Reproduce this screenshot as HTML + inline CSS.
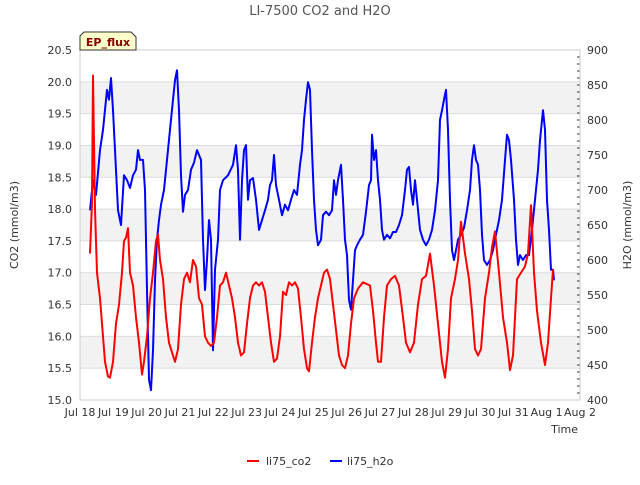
<!DOCTYPE html>
<html><head><meta charset="utf-8"><style>
body{margin:0;background:#fff;font-family:"Liberation Sans","DejaVu Sans",sans-serif}
svg text{font-family:"DejaVu Sans","Liberation Sans",sans-serif}
</style></head><body>
<svg id="chart" width="640" height="480" xmlns="http://www.w3.org/2000/svg"></svg>
<script>
const xTickLabels=["Jul 18","Jul 19","Jul 20","Jul 21","Jul 22","Jul 23","Jul 24","Jul 25","Jul 26","Jul 27","Jul 28","Jul 29","Jul 30","Jul 31","Aug 1","Aug 2"];
const co2Ticks=[15.0,15.5,16.0,16.5,17.0,17.5,18.0,18.5,19.0,19.5,20.0,20.5];
const h2oTicks=[400,450,500,550,600,650,700,750,800,850,900];
const co2Days=[0.30,0.36,0.39,0.45,0.51,0.60,0.69,0.75,0.84,0.90,0.99,1.08,1.17,1.26,1.32,1.38,1.44,1.50,1.59,1.68,1.77,1.86,1.92,2.01,2.10,2.19,2.28,2.34,2.40,2.49,2.58,2.67,2.76,2.85,2.94,3.03,3.12,3.21,3.30,3.39,3.48,3.57,3.66,3.75,3.84,3.93,4.02,4.11,4.20,4.29,4.38,4.47,4.56,4.65,4.74,4.83,4.92,5.01,5.10,5.19,5.28,5.37,5.46,5.55,5.64,5.73,5.82,5.91,6.00,6.09,6.18,6.27,6.36,6.45,6.54,6.63,6.72,6.81,6.87,6.96,7.05,7.14,7.23,7.32,7.41,7.50,7.59,7.68,7.77,7.86,7.95,8.04,8.13,8.22,8.34,8.49,8.70,8.79,8.88,8.94,9.03,9.12,9.21,9.33,9.45,9.57,9.69,9.78,9.90,10.02,10.14,10.26,10.38,10.50,10.62,10.74,10.86,10.95,11.04,11.13,11.25,11.34,11.43,11.55,11.67,11.76,11.85,11.94,12.03,12.15,12.27,12.36,12.45,12.57,12.69,12.81,12.90,12.99,13.11,13.23,13.35,13.44,13.53,13.62,13.71,13.83,13.95,14.04,14.13,14.19];
const co2Values=[17.3,18.1,20.1,18.0,17.0,16.6,16.0,15.6,15.37,15.35,15.6,16.2,16.5,17.0,17.5,17.55,17.7,17.0,16.8,16.3,15.9,15.4,15.6,16.0,16.6,17.0,17.5,17.6,17.2,16.9,16.3,15.9,15.75,15.6,15.8,16.5,16.9,17.0,16.85,17.2,17.1,16.6,16.5,16.0,15.9,15.85,15.9,16.3,16.8,16.85,17.0,16.8,16.6,16.3,15.9,15.7,15.75,16.2,16.6,16.8,16.85,16.8,16.85,16.7,16.3,15.9,15.6,15.65,16.0,16.7,16.65,16.85,16.8,16.85,16.75,16.3,15.8,15.5,15.45,15.9,16.3,16.6,16.8,17.0,17.05,16.9,16.5,16.1,15.7,15.55,15.5,15.7,16.2,16.6,16.75,16.85,16.8,16.4,15.9,15.6,15.6,16.3,16.8,16.9,16.95,16.8,16.3,15.9,15.75,15.9,16.5,16.9,16.95,17.3,16.8,16.2,15.6,15.35,15.8,16.6,16.9,17.2,17.8,17.3,16.9,16.4,15.8,15.7,15.8,16.6,17.0,17.4,17.65,17.0,16.3,15.9,15.47,15.7,16.9,17.0,17.1,17.3,18.06,17.0,16.4,15.9,15.55,15.9,16.6,17.05];
const h2oX=[90,93,96,100,103,107,109,111,113,115,118,121,124,127,130,133,136,138,140,143,145,147,149,151,153,155,157,159,161,164,167,170,173,175,177,179,181,183,185,188,191,194,197,199,201,203,205,207,209,211,213,215,218,220,223,228,233,236,238,240,242,244,246,248,250,253,256,259,262,265,268,270,272,274,276,279,282,285,288,291,294,297,300,302,304,306,308,310,312,314,316,318,321,323,326,329,332,334,336,338,341,343,345,347,349,351,353,355,357,360,363,366,369,371,372,374,376,378,380,382,384,387,390,393,396,399,402,405,407,409,411,413,415,417,420,423,426,429,432,435,438,440,442,444,446,448,450,452,454,456,458,461,464,467,470,472,474,476,478,480,482,484,487,490,493,496,499,502,505,507,509,511,514,516,518,520,523,526,529,532,535,538,540,543,545,547,549,551,553,554];
const h2oDays=h2oX.map(x=>(x-80)/(500/15));
const h2oValues=[671,714,693,757,786,843,829,860,814,757,671,650,721,714,703,721,729,757,743,743,700,557,429,414,471,571,629,657,679,700,743,786,829,857,871,814,721,669,693,700,729,739,757,750,743,629,557,600,657,629,471,586,629,700,714,721,736,764,729,629,714,757,764,686,714,717,686,643,657,671,686,707,714,750,707,686,664,679,671,686,700,693,736,757,800,829,854,843,757,686,643,621,629,664,669,664,671,714,693,714,736,686,629,607,543,529,571,614,621,629,636,669,707,714,779,743,757,714,686,643,629,636,631,640,640,650,664,700,729,733,700,679,714,686,643,629,621,629,643,671,714,800,814,829,843,786,686,614,600,614,629,636,646,671,700,743,764,743,736,700,636,600,593,600,614,636,657,686,743,779,771,743,686,629,593,607,600,607,607,643,686,729,771,814,786,686,643,586,586,571];

const svg=document.getElementById('chart');
const NS='http://www.w3.org/2000/svg';
const L=80,R=580,T=50,B=400;
const xs=d=>L+d*(R-L)/15;
const yc=v=>B-(v-15)*(B-T)/5.5;
const yh=v=>B-(v-400)*(B-T)/500;
function mk(tag,attrs,parent){const e=document.createElementNS(NS,tag);for(const k in attrs)e.setAttribute(k,attrs[k]);(parent||svg).appendChild(e);return e;}
// bands
for(let i=0;i<co2Ticks.length-1;i++){
  if(i%2===1){const b=mk('rect',{x:L,y:yc(co2Ticks[i+1]),width:R-L,height:yc(co2Ticks[i])-yc(co2Ticks[i+1]),fill:'#f2f2f2'});
  
  }
}
co2Ticks.forEach(v=>{const g=mk('line',{x1:L,x2:R,y1:yc(v),y2:yc(v),stroke:'#dcdcdc','stroke-width':1});


const t=mk('text',{x:L-8,y:yc(v)+4,'text-anchor':'end','font-size':11,fill:'#333'});t.textContent=v.toFixed(1);

});
h2oTicks.forEach(v=>{const t=mk('text',{x:R+7,y:yh(v)+4,'font-size':11,fill:'#333'});t.textContent=v;

});
for(let v=400;v<=900;v+=10){const m=mk('line',{x1:R,x2:R-3,y1:yh(v),y2:yh(v),stroke:'#333','stroke-width':1});

}
xTickLabels.forEach((s,i)=>{const t=mk('text',{x:xs(i),y:B+16,'text-anchor':'middle','font-size':11,fill:'#333'});t.textContent=s;

});
mk('rect',{x:L,y:T,width:R-L,height:B-T,fill:'none',stroke:'#ccc'});
function series(days,vals,fy,color,name){let d='';days.forEach((x,i)=>{d+=(i?'L':'M')+xs(x).toFixed(1)+','+fy(vals[i]).toFixed(1);});
const p=mk('path',{d:d,fill:'none',stroke:color,'stroke-width':2,'stroke-linejoin':'round'});

}
series(h2oDays,h2oValues,yh,'#0000ff','h2o-line');
series(co2Days,co2Values,yc,'#ff0000','co2-line');
</script>
<svg width="640" height="480" style="position:absolute;left:0;top:0" xmlns="http://www.w3.org/2000/svg">
<text x="320" y="15" text-anchor="middle" font-size="13" fill="#555" font-family="DejaVu Sans,sans-serif">LI-7500 CO2 and H2O</text>
<text transform="translate(18,225) rotate(-90)" text-anchor="middle" font-size="11" fill="#333" font-family="DejaVu Sans,sans-serif">CO2 (mmol/m3)</text>
<text transform="translate(631,225) rotate(-90)" text-anchor="middle" font-size="11" fill="#333" font-family="DejaVu Sans,sans-serif">H2O (mmol/m3)</text>
<text x="578" y="433" text-anchor="end" font-size="11" fill="#333" font-family="DejaVu Sans,sans-serif">Time</text>
<g>
<path d="M80,50 L80,36 L84,32 L131,32 L136,37 L136,50 Z" fill="#ffffcc" stroke="#333"/>
<text x="108" y="46" text-anchor="middle" font-size="11" font-weight="bold" fill="#8b0000" font-family="DejaVu Sans,sans-serif">EP_flux</text>
</g>
<g>
<line x1="247" x2="259" y1="461" y2="461" stroke="#ff0000" stroke-width="2"/>
<text x="266" y="465" font-size="11" fill="#333" font-family="DejaVu Sans,sans-serif">li75_co2</text>
</g>
<g>
<line x1="330" x2="342" y1="461" y2="461" stroke="#0000ff" stroke-width="2"/>
<text x="347" y="465" font-size="11" fill="#333" font-family="DejaVu Sans,sans-serif">li75_h2o</text>
</g>
</svg>
</body></html>
